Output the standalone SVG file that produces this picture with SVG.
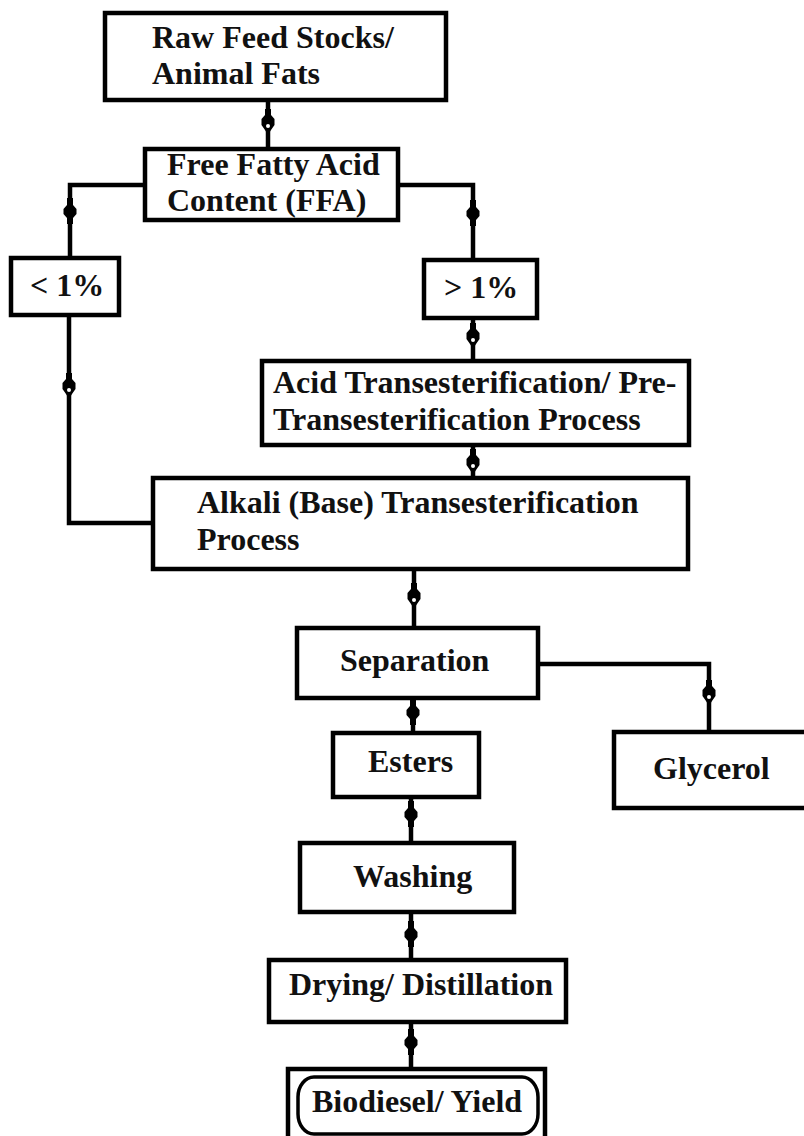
<svg xmlns="http://www.w3.org/2000/svg" width="804" height="1136" viewBox="0 0 804 1136">
<style>
.box{fill:#fff;stroke:#000;stroke-width:4.5}
.ln{fill:none;stroke:#000;stroke-width:4.5}
text{font-family:"Liberation Serif","Times New Roman",serif;font-weight:bold;font-size:32px;fill:#111}
</style>
<defs>
<g id="mA"><path d="M-3,-13 L3,-13 L3,-7 L6.5,-3 L6.5,3 L3,8 L0,13 L-3,8 L-6.5,3 L-6.5,-3 L-3,-7 Z" fill="#000"/><circle cx="0" cy="4" r="2" fill="#fff"/></g>
<g id="mB"><path d="M-3,-13 L3,-13 L3,-6 L6.5,-2 L6.5,3 L3,7 L3,13 L-3,13 L-3,7 L-6.5,3 L-6.5,-2 L-3,-6 Z" fill="#000"/></g>
</defs>
<rect width="804" height="1136" fill="#fff"/>
<g id="connectors">
<path class="ln" d="M268,100 V149"/>
<path class="ln" d="M145,185 H70 V258"/>
<path class="ln" d="M398,185 H473 V260"/>
<path class="ln" d="M69,315 V523 H153"/>
<path class="ln" d="M473,318 V361"/>
<path class="ln" d="M473,445 V478"/>
<path class="ln" d="M414,570 V628"/>
<path class="ln" d="M538,664 H709 V732"/>
<path class="ln" d="M413,698 V733"/>
<path class="ln" d="M411,797 V843"/>
<path class="ln" d="M411,912 V960"/>
<path class="ln" d="M411,1022 V1069"/>
<use href="#mA" x="268" y="122"/>
<use href="#mB" x="70" y="211"/>
<use href="#mB" x="473" y="213"/>
<use href="#mA" x="69" y="386"/>
<use href="#mA" x="473" y="336"/>
<use href="#mA" x="473" y="462"/>
<use href="#mA" x="414" y="596"/>
<use href="#mA" x="709" y="693"/>
<use href="#mB" x="413" y="712"/>
<use href="#mB" x="411" y="814"/>
<use href="#mB" x="411" y="934"/>
<use href="#mB" x="411" y="1042"/>
</g>
<g id="raw"><rect class="box" x="105" y="13" width="341" height="87"/><text x="152" y="48">Raw Feed Stocks/</text><text x="152" y="84">Animal Fats</text></g>
<g id="ffa"><rect class="box" x="145" y="149" width="253" height="71"/><text x="167" y="175">Free Fatty Acid</text><text x="167" y="211">Content (FFA)</text></g>
<g id="lt1"><rect class="box" x="11" y="258" width="108" height="57"/><text x="30" y="296">&lt; 1%</text></g>
<g id="gt1"><rect class="box" x="424" y="260" width="113" height="58"/><text x="444" y="298">&gt; 1%</text></g>
<g id="acid"><rect class="box" x="262" y="361" width="427" height="84"/><text x="273" y="393">Acid Transesterification/ Pre-</text><text x="273" y="430">Transesterification Process</text></g>
<g id="alkali"><rect class="box" x="153" y="478" width="535" height="91"/><text x="197" y="513">Alkali (Base) Transesterification</text><text x="197" y="550">Process</text></g>
<g id="separation"><rect class="box" x="297" y="628" width="241" height="70"/><text x="340" y="671">Separation</text></g>
<g id="glycerol"><rect class="box" x="614" y="732" width="220" height="76"/><text x="653" y="779">Glycerol</text></g>
<g id="esters"><rect class="box" x="333" y="733" width="146" height="64"/><text x="368" y="772">Esters</text></g>
<g id="washing"><rect class="box" x="300" y="843" width="214" height="69"/><text x="353" y="887">Washing</text></g>
<g id="drying"><rect class="box" x="269" y="960" width="297" height="62"/><text x="289" y="995">Drying/ Distillation</text></g>
<g id="biodiesel"><rect class="box" x="288" y="1069" width="257" height="80"/><rect x="298" y="1077" width="240" height="57" rx="16" ry="20" fill="#fff" stroke="#000" stroke-width="3.5"/><text x="312" y="1112">Biodiesel/ Yield</text></g>
</svg>
